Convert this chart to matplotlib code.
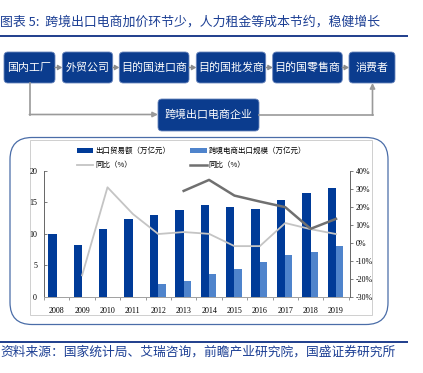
import matplotlib
matplotlib.use('Agg')
import matplotlib.pyplot as plt
from matplotlib.patches import FancyBboxPatch, Rectangle
import numpy as np

plt.rcParams['font.family'] = ['Noto Sans CJK SC', 'DejaVu Sans']

# ---------------- data ----------------
years = ['2008', '2009', '2010', '2011', '2012', '2013', '2014', '2015', '2016', '2017', '2018', '2019']
export_trade = [10.0, 8.3, 10.8, 12.4, 13.0, 13.8, 14.5, 14.2, 13.9, 15.4, 16.5, 17.3]
cbec_export = [np.nan, np.nan, np.nan, np.nan, 2.1, 2.6, 3.6, 4.5, 5.5, 6.6, 7.1, 8.0]
export_yoy = [np.nan, -18.0, 30.8, 16.0, 4.9, 6.0, 5.0, -1.8, -1.8, 11.0, 7.6, 4.9]
cbec_yoy = [np.nan, np.nan, np.nan, np.nan, np.nan, 28.8, 34.9, 26.2, 22.9, 19.8, 7.8, 13.3]
left_ticks = [0, 5, 10, 15, 20]
right_ticks = [-30, -20, -10, 0, 10, 20, 30, 40]

flow_labels = ['国内工厂', '外贸公司', '目的国进口商', '目的国批发商', '目的国零售商', '消费者']
bottom_label = '跨境出口电商企业'
title_text = '图表 5:  跨境出口电商加价环节少，人力租金等成本节约，稳健增长'
source_text = '资料来源：国家统计局、艾瑞咨询，前瞻产业研究院，国盛证券研究所'
legend_labels = ['出口贸易额（万亿元）', '同比（%）', '跨境电商出口规模（万亿元）', '同比（%）']

# ---------------- colours ----------------
DARK_BLUE = '#003B98'
LIGHT_BLUE = '#4F84CC'
LIGHT_GREY = '#C4C4C4'
DARK_GREY = '#707070'
BOX_BLUE = '#0B3C8E'
TITLE_BLUE = '#1C3F94'

W, H = 423, 373
fig = plt.figure(figsize=(W / 100, H / 100), dpi=100)

# background axes in pixel coordinates
bg = fig.add_axes([0, 0, 1, 1], zorder=0)
bg.set_xlim(0, W)
bg.set_ylim(H, 0)
bg.axis('off')

# title
bg.text(0.5, 22.5, title_text, fontsize=9.3, color=TITLE_BLUE, style='italic',
        ha='left', va='center')
bg.plot([0, 408], [35.5, 35.5], color='#1F3E8C', lw=1.4, solid_capstyle='butt')

# flow chart
boxes = [(4, 55), (62.3, 112.7), (119.3, 189), (196.3, 265.7), (272.7, 342.3), (349, 395)]
by0, by1 = 52, 83
for (x0, x1), lab in zip(boxes, flow_labels):
    p = FancyBboxPatch((x0 + 2, by0 + 2), x1 - x0 - 4, by1 - by0 - 4,
                       boxstyle='round,pad=2,rounding_size=4', fc=BOX_BLUE,
                       ec='#6A86BD', lw=0.6)
    bg.add_patch(p)
    bg.text((x0 + x1) / 2, (by0 + by1) / 2 + 0.5, lab, color='white', fontsize=7.9,
            ha='center', va='center')
for i in range(len(boxes) - 1):
    xa = boxes[i][1]
    xb = boxes[i + 1][0]
    bg.annotate('', xy=(xb, 67.5), xytext=(xa, 67.5),
                arrowprops=dict(arrowstyle='-|>,head_length=0.25,head_width=0.15',
                                color='#8C8C8C', lw=1.0, shrinkA=0, shrinkB=0))

# bottom box
bx0, bx1, bby0, bby1 = 158, 259, 99, 131
p = FancyBboxPatch((bx0 + 2, bby0 + 2), bx1 - bx0 - 4, bby1 - bby0 - 4,
                   boxstyle='round,pad=2,rounding_size=4', fc=BOX_BLUE, ec='#6A86BD', lw=0.6)
bg.add_patch(p)
bg.text((bx0 + bx1) / 2, 115, bottom_label, color='white', fontsize=7.9,
        ha='center', va='center')

# connectors
bg.plot([30, 30], [by1, 114.5], color='#9A9A9A', lw=1.2)
bg.annotate('', xy=(bx0, 114.5), xytext=(29.4, 114.5),
            arrowprops=dict(arrowstyle='-|>,head_length=0.3,head_width=0.15',
                            color='#9A9A9A', lw=1.2, shrinkA=0, shrinkB=0))
bg.plot([bx1, 372.5], [114.5, 114.5], color='#9A9A9A', lw=1.2)
bg.annotate('', xy=(372.5, by1), xytext=(372.5, 115.1),
            arrowprops=dict(arrowstyle='-|>,head_length=0.3,head_width=0.15',
                            color='#9A9A9A', lw=1.2, shrinkA=0, shrinkB=0))

# chart rounded frame
frame = FancyBboxPatch((10 + 22, 137.5 + 22), 378 - 44, 187 - 44,
                       boxstyle='round,pad=22,rounding_size=22', fc='white',
                       ec='#4A6DA8', lw=0.9)
bg.add_patch(frame)
bg.add_patch(Rectangle((30, 140), 342, 175, fc='white', ec='#C8C8C8', lw=0.6))

# source
bg.plot([0, 408], [341.5, 341.5], color='#1F3E8C', lw=1.4, solid_capstyle='butt')
bg.text(0.5, 352, source_text, fontsize=9.2, color=TITLE_BLUE, style='italic',
        ha='left', va='center')

# ---------------- chart ----------------
ax_l, ax_r, ax_t, ax_b = 44, 350, 170.7, 297
ax = fig.add_axes([ax_l / W, 1 - ax_b / H, (ax_r - ax_l) / W, (ax_b - ax_t) / H], zorder=2)
ax.patch.set_alpha(0)
x = np.arange(len(years))
b1 = ax.bar(x - 0.165, export_trade, width=0.33, color=DARK_BLUE, zorder=2)
b2 = ax.bar(x + 0.14, cbec_export, width=0.29, color=LIGHT_BLUE, zorder=2)
ax.set_xlim(-0.45, 11.55)
ax.set_ylim(0, 20)
ax.set_yticks(left_ticks)
ax.set_xticks(x)
ax.set_xticklabels(years)
ax.set_xticks(np.arange(-0.5, 11.6, 1), minor=True)
ax.tick_params(axis='x', which='major', length=0, pad=7)
ax.tick_params(axis='x', which='minor', length=2.5, direction='out', color='#888888', width=0.6)
ax.tick_params(axis='y', length=2, direction='in', color='#666666', width=0.6, pad=5)
for lbl in ax.get_xticklabels() + ax.get_yticklabels():
    lbl.set_fontfamily('Liberation Serif')
    lbl.set_fontsize(5.8)
for s in ['top', 'right']:
    ax.spines[s].set_visible(False)
ax.spines['left'].set_color('#666666')
ax.spines['left'].set_linewidth(0.7)
ax.spines['bottom'].set_color('#A0A0A0')
ax.spines['bottom'].set_linewidth(0.7)

ax2 = ax.twinx()
ax2.set_zorder(3)
ax2.patch.set_alpha(0)
l1, = ax2.plot(x, export_yoy, color=LIGHT_GREY, lw=1.3)
l2, = ax2.plot(x, cbec_yoy, color=DARK_GREY, lw=1.8)
ax2.set_ylim(-30, 40)
ax2.set_yticks(right_ticks)
ax2.set_yticklabels([f'{v}%' for v in right_ticks])
ax2.tick_params(axis='y', length=2, direction='out', color='#666666', width=0.6, pad=2)
for lbl in ax2.get_yticklabels():
    lbl.set_fontfamily('Liberation Serif')
    lbl.set_fontsize(5.8)
for s in ['top', 'left', 'bottom']:
    ax2.spines[s].set_visible(False)
ax2.spines['right'].set_color('#666666')
ax2.spines['right'].set_linewidth(0.7)

# legend
leg = fig.legend([b1, l1, b2, l2], legend_labels, ncol=2, loc='upper left',
                 bbox_to_anchor=(70 / W, 1 - 140 / H), frameon=False,
                 fontsize=5.4, handlelength=2.2, handleheight=0.7,
                 columnspacing=2.6, labelspacing=0.85, handletextpad=0.3)

fig.savefig('out.png', dpi=100)
